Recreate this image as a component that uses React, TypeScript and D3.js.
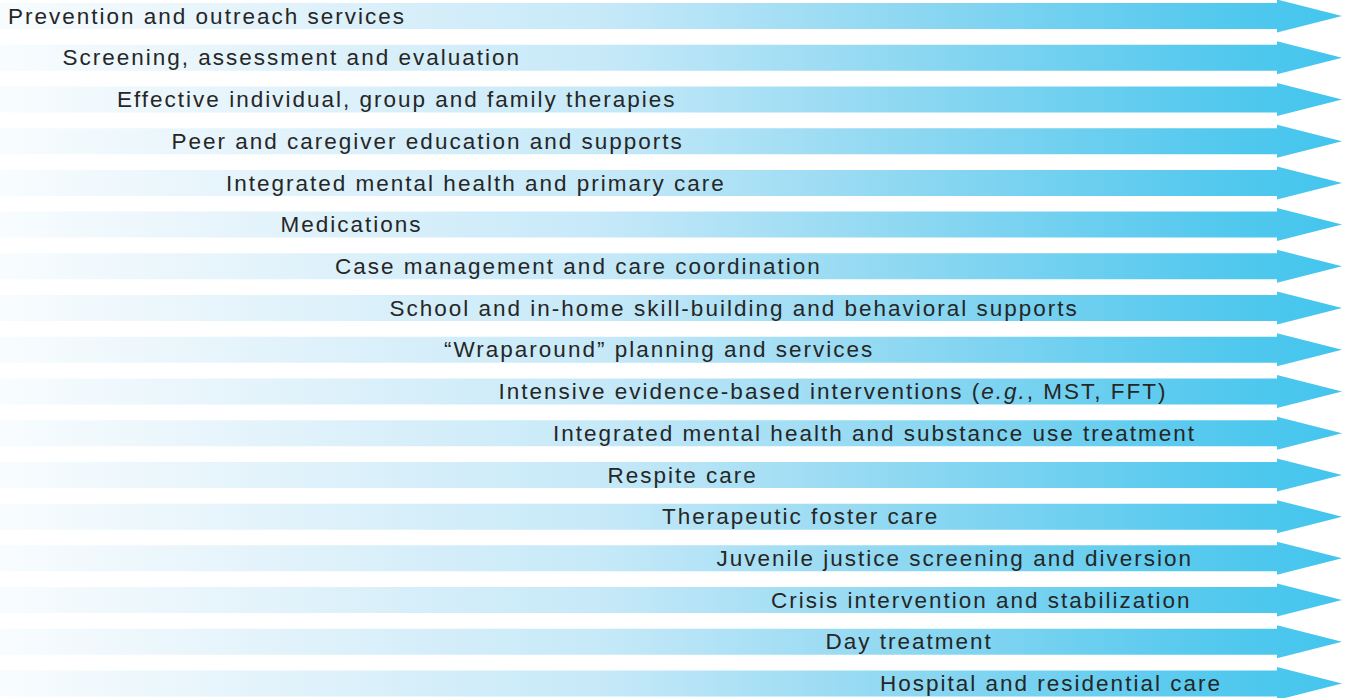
import React from "react";
import * as d3 from "d3";

const labels: string[] = [
  "Prevention and outreach services",
  "Screening, assessment and evaluation",
  "Effective individual, group and family therapies",
  "Peer and caregiver education and supports",
  "Integrated mental health and primary care",
  "Medications",
  "Case management and care coordination",
  "School and in-home skill-building and behavioral supports",
  "\u201CWraparound\u201D planning and services",
  "Intensive evidence-based interventions (e.g., MST, FFT)",
  "Integrated mental health and substance use treatment",
  "Respite care",
  "Therapeutic foster care",
  "Juvenile justice screening and diversion",
  "Crisis intervention and stabilization",
  "Day treatment",
  "Hospital and residential care",
];

// indentation level of each label (step index)
const indentLevels: number[] = labels.map((_, i) => i);

const gradientStops: [number, string][] = [
  [0, "#f8fcfe"],
  [0.2, "#e3f3fb"],
  [0.45, "#c6e9f8"],
  [0.67, "#8fd8f2"],
  [0.9, "#55c9ee"],
  [1, "#43c5ee"],
];

const W = 1351;
const H = 698;

function renderLabel(lab: string) {
  const key = "e.g.";
  const idx = lab.indexOf(key);
  if (idx < 0) return lab;
  return (
    <>
      {lab.slice(0, idx)}
      <tspan fontStyle="italic">{key}</tspan>
      {lab.slice(idx + key.length)}
    </>
  );
}

export default function App() {
  const y = d3
    .scalePoint<string>()
    .domain(labels)
    .range([16, 683.5]);
  const xIndent = d3.scaleLinear().domain([0, 16]).range([8, 880]);

  const shaftEnd = 1277;
  const tipX = 1342;
  const shaftHalf = 13;
  const headHalf = 16.5;

  const arrowPath = (cy: number) => {
    const p = d3.path();
    p.moveTo(0, cy - shaftHalf);
    p.lineTo(shaftEnd, cy - shaftHalf);
    p.lineTo(shaftEnd, cy - headHalf);
    p.lineTo(tipX, cy);
    p.lineTo(shaftEnd, cy + headHalf);
    p.lineTo(shaftEnd, cy + shaftHalf);
    p.lineTo(0, cy + shaftHalf);
    p.closePath();
    return p.toString();
  };

  return (
    <svg
      width={W}
      height={H}
      style={{ position: "absolute", left: 0, top: 0, display: "block" }}
    >
      <defs>
        <linearGradient id="arrowGrad" gradientUnits="userSpaceOnUse" x1={0} y1={0} x2={tipX} y2={0}>
          {gradientStops.map(([o, c]) => (
            <stop key={o} offset={o} stopColor={c} />
          ))}
        </linearGradient>
      </defs>
      <rect width={W} height={H} fill="#ffffff" />
      {labels.map((lab, i) => {
        const cy = y(lab)!;
        return (
          <g key={lab}>
            <path d={arrowPath(cy)} fill="url(#arrowGrad)" />
            <text
              x={xIndent(indentLevels[i])}
              y={cy}
              dy="0.34em"
              fill="#262626"
              fontFamily="Liberation Sans, Arial, sans-serif"
              fontSize={22.5}
              letterSpacing={2.0}
            >
              {renderLabel(lab)}
            </text>
          </g>
        );
      })}
    </svg>
  );
}
